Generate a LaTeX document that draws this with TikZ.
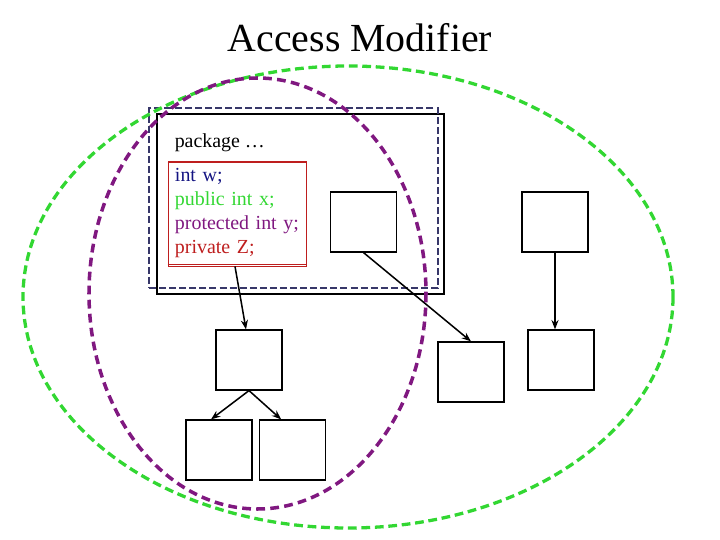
\documentclass[tikz,border=0pt]{standalone}
\usepackage{fontspec}
\setmainfont{Liberation Serif}
\usepackage{xcolor}
\usetikzlibrary{arrows.meta,positioning,calc}

\definecolor{navyw}{RGB}{20,20,130}
\definecolor{greenx}{RGB}{50,215,50}
\definecolor{purpley}{RGB}{128,24,128}
\definecolor{redz}{RGB}{190,30,30}
\definecolor{pkgdash}{RGB}{55,55,105}

\begin{document}
\begin{tikzpicture}[x=0.03cm, y=-0.03cm,
  box/.style={rectangle, draw, fill=white, minimum width=1.98cm,
    minimum height=1.8cm, inner sep=0pt, line width=1pt},
  code/.style={font=\fontsize{17}{20.5}\selectfont},
  ->,>={Stealth[length=8pt,width=6pt]},line width=1.3pt
]
  \useasboundingbox (0,0) rectangle (720,540);

  \node[font=\fontsize{34}{40}\selectfont, anchor=base, inner sep=0pt] (title) at (360,52) {Access Modifier};

  % package frame
  \node[draw, minimum width=8.61cm, minimum height=5.4cm, inner sep=0pt, line width=1pt] (pkg) at (300.5,204) {};
  \node[draw=pkgdash, line width=1.8pt, dash pattern=on 6pt off 2.6pt, minimum width=8.67cm,
    minimum height=5.4cm, inner sep=0pt] (pkgscope) at (293.5,198) {};
  \node[code, anchor=base west, inner sep=0pt] (pkglabel) at (174,148) {package …};

  % members
  \node[draw=redz, line width=0.7pt, code, align=left, text width=3.72cm, inner xsep=0.21cm,
    minimum height=3.15cm, inner ysep=0pt] (vars) at (237,213.5)
    {\textcolor{navyw}{int w;}\\\textcolor{greenx}{public int x;}\\
     \textcolor{purpley}{protected int y;}\\\textcolor{redz}{private Z;}};
  \draw[-, redz, line width=0.7pt] ($(vars.north west)+(0,2)$) -- ($(vars.north east)+(0,2)$);
  \draw[-, redz, line width=0.7pt] ($(vars.south west)+(0,-2)$) -- ($(vars.south east)+(0,-2)$);

  \node[box] (local) at (363.5,222) {};
  \node[box] (other) at (555,222) {};
  \node[box] (sub) at (471,372) {};
  \node[box] (otherchild) at (561,360) {};
  \node[box] (mid) at (249,360) {};
  \node[box] (leftleaf) at (219,450) {};
  \node[box, right=0.18cm of leftleaf] (rightleaf) {};

  \draw ($(vars.south)+(-2,0)$) -- ($(mid.north)+(-3,0)$);
  \draw (local.south) -- (sub.north);
  \draw[line width=1.8pt] (other.south) -- (other.south |- otherchild.north);
  \draw (mid.south) -- ($(leftleaf.north)+(-8,0)$);
  \draw (mid.south) -- ($(rightleaf.north)+(-11,0)$);

  % scopes
  \draw[greenx, line width=2.8pt, dash pattern=on 7.5pt off 4pt] (348,297) ellipse [x radius=325, y radius=231];
  \draw[purpley, line width=3pt, dash pattern=on 7.5pt off 4.5pt] (257.5,293.5) ellipse [x radius=168.5, y radius=215.5];
\end{tikzpicture}
\end{document}
